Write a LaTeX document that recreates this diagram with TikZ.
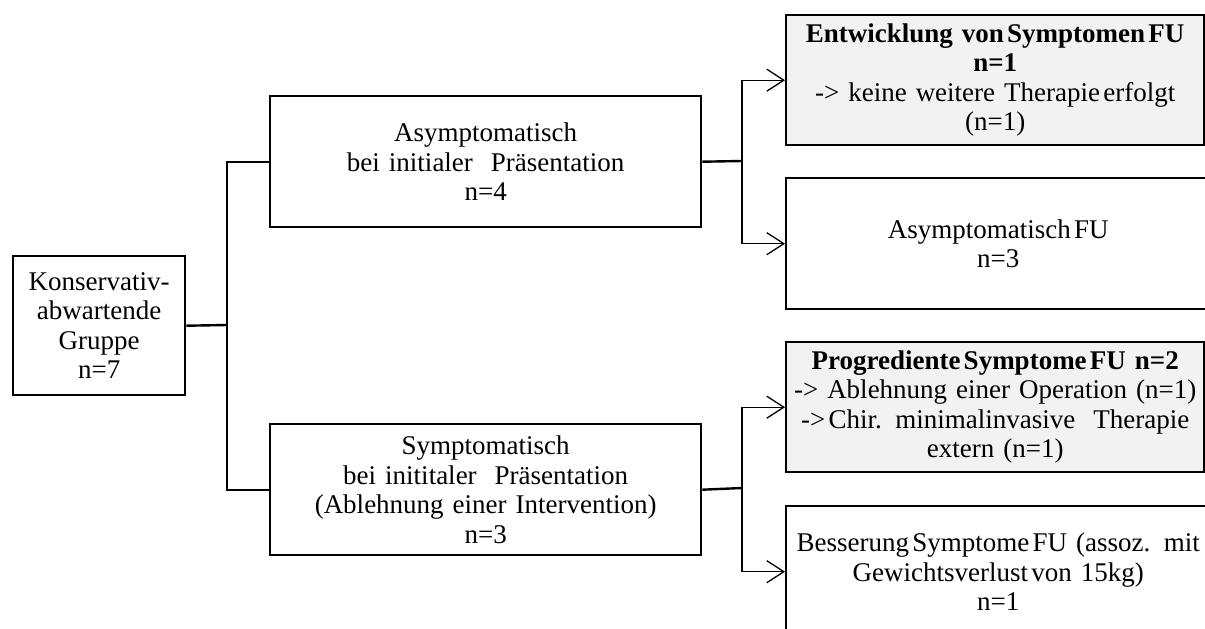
\documentclass[tikz,border=0pt]{standalone}
\usepackage{fontspec}
\setmainfont{Liberation Serif}
\usetikzlibrary{arrows.meta}
\definecolor{fillgray}{RGB}{242,242,242}
% narrow word space
\newcommand{\nsp}{\hspace{0.12em}}
\begin{document}
\begin{tikzpicture}[x=1pt,y=-1pt,
  box/.style={draw, line width=2.4pt, rectangle, inner sep=0pt, align=center,
    font=\fontsize{27}{29.5}\selectfont, anchor=north west},
  midbox/.style={box, minimum width=431pt, minimum height=131pt, text width=425pt},
  outbox/.style={box, minimum width=424pt, minimum height=131pt, text width=424pt},
  shaded/.style={box, fill=fillgray, minimum width=418pt, minimum height=130pt, text width=418pt},
  trunk/.style={line width=2.4pt},
  arr/.style={line width=1.3pt, -{Straight Barb[length=17pt,width=22pt]}},
]
\useasboundingbox (0,0) rectangle (1205,629);
\clip (0,0) rectangle (1205,629);

% root group
\node[box, minimum width=172pt, minimum height=139pt, text width=168pt] (start) at (12,255)
  {Konservativ-\\abwartende\\Gruppe\\n=7};

% first level
\node[midbox] (asym) at (269,95)
  {Asymptomatisch\\bei initialer\ \ Präsentation\\n=4};
\node[midbox] (sym) at (269,423)
  {Symptomatisch\\bei inititaler\ \ Präsentation\\(Ablehnung einer Intervention)\\n=3};

% follow-up outcomes
\node[shaded] (dev) at (785,14)
  {\textbf{Entwicklung von\nsp Symptomen\nsp FU}\\\textbf{n=1}\\-> keine weitere Therapie\nsp erfolgt\\(n=1)};
\node[outbox] (asymfu) at (785,177)
  {Asymptomatisch\nsp FU\\n=3};
\node[shaded] (prog) at (785,341)
  {\textbf{Progrediente\nsp Symptome\nsp FU n=2}\\-> Ablehnung einer Operation (n=1)\\->\nsp Chir. minimalinvasive\ \ Therapie\\extern (n=1)};
\node[outbox] (bess) at (785,505)
  {Besserung\nsp Symptome\nsp FU (assoz. mit\\Gewichtsverlust\nsp von 15kg)\\n=1};

% junctions
\coordinate (j0) at (227,325);
\coordinate (j1) at (742,161);
\coordinate (j2) at (742,488);

% root to first level
\draw[trunk] (start.east) -- (j0);
\draw[trunk] (asym.west) -| (j0) |- (sym.west);

% first level to outcomes
\draw[trunk] (asym.east) -- (j1);
\draw[trunk] (sym.east) -- (j2);
\draw[arr] (j1) |- (dev.west);
\draw[arr] (j1) |- (asymfu.west);
\draw[arr] (j2) |- (prog.west);
\draw[arr] (j2) |- (bess.west);
\end{tikzpicture}
\end{document}
